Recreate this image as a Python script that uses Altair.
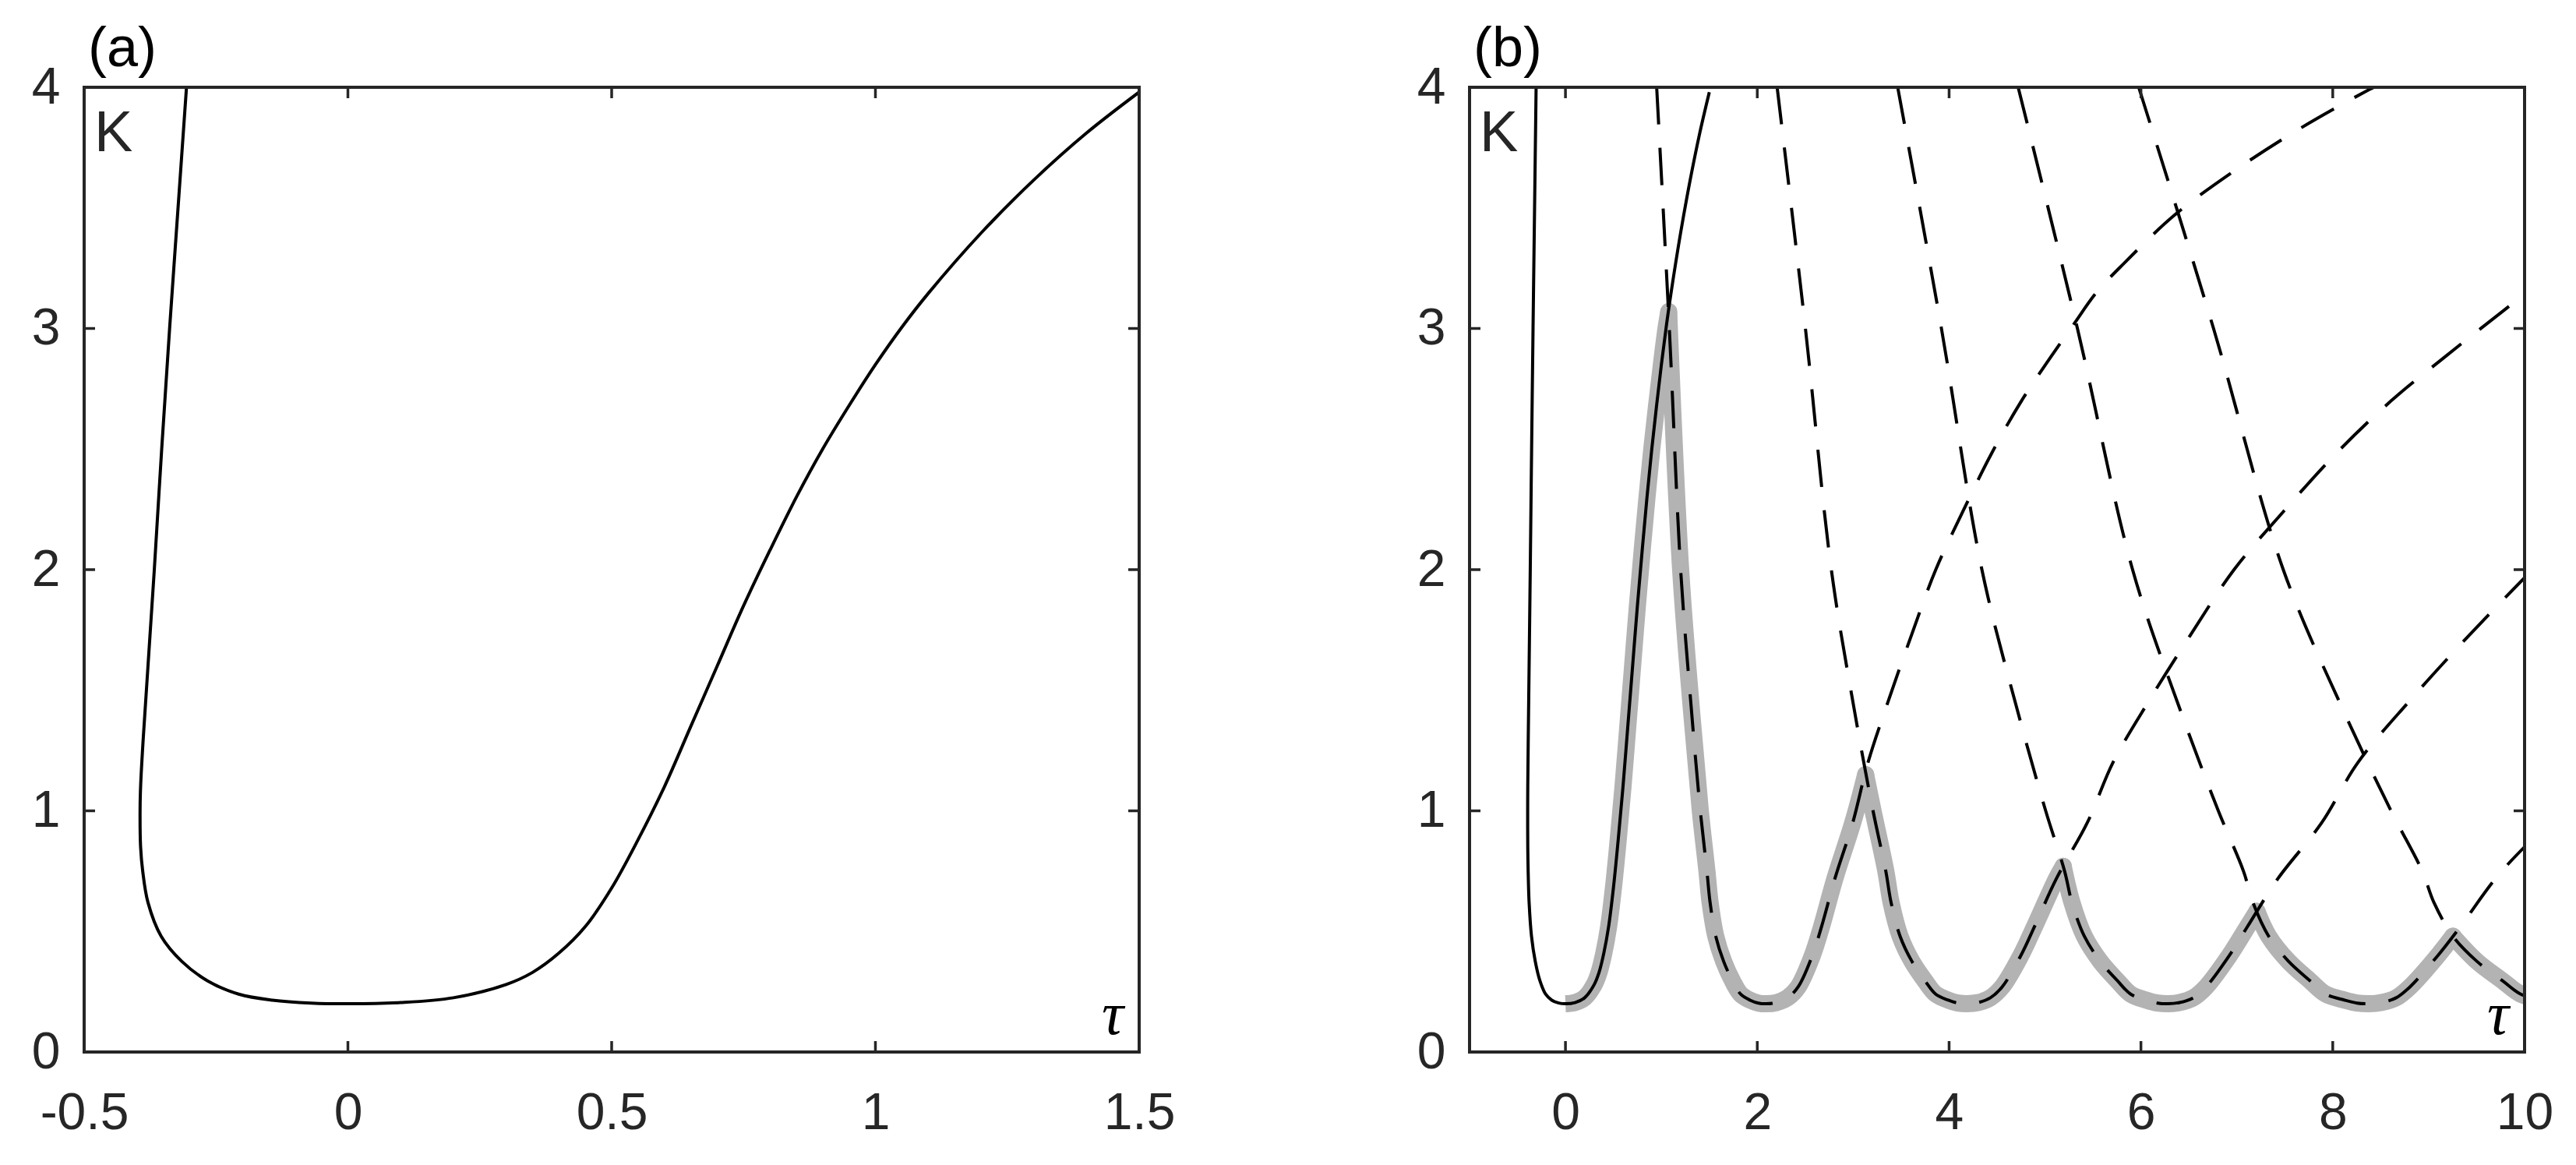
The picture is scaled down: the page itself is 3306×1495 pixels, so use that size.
import altair as alt
import pandas as pd

# ---------------- data: (tau, K) ----------------
# n = 0 branch (solid), from the top of its left arm to the top of its right arm
solid_tau = [-0.306, -0.322, -0.338, -0.353, -0.367, -0.379, -0.388, -0.393, -0.394, -0.393,
             -0.389, -0.379, -0.354, -0.315, -0.266, -0.207, -0.143, -0.070, 0.000, 0.100,
             0.200, 0.300, 0.350, 0.400, 0.450, 0.500, 0.550, 0.600, 0.650, 0.700,
             0.750, 0.800, 0.850, 0.900, 0.950, 1.000, 1.050, 1.100, 1.200, 1.300,
             1.400, 1.500]
solid_K = [4.00, 3.50, 3.00, 2.50, 2.00, 1.60, 1.30, 1.10, 1.00, 0.85,
           0.75, 0.62, 0.48, 0.376, 0.295, 0.24, 0.215, 0.203, 0.200, 0.205,
           0.225, 0.28, 0.33, 0.41, 0.52, 0.68, 0.88, 1.10, 1.35, 1.60,
           1.85, 2.08, 2.30, 2.50, 2.68, 2.85, 3.005, 3.145, 3.395, 3.615,
           3.81, 3.98]

# dashed branches n = 1..5
dash1_tau = [0.951, 1.083, 1.201, 1.313, 1.406, 1.475, 1.508, 1.567, 1.649, 1.741, 1.826, 1.924,
             2.010, 2.094, 2.201, 2.316, 2.426, 2.574, 2.670, 2.810, 2.995, 3.154, 3.370, 3.609,
             3.861, 4.142, 4.440, 4.755, 5.057, 5.304, 5.538, 5.824, 6.350, 6.961, 7.621, 8.330, 8.430]
dash1_K = [4.0, 3.0, 2.0, 1.42, 1.0, 0.75, 0.62, 0.48, 0.376, 0.295, 0.24, 0.215,
           0.203, 0.2, 0.205, 0.225, 0.27, 0.40, 0.52, 0.72, 0.95, 1.2, 1.46, 1.73,
           2.0, 2.24, 2.48, 2.7, 2.88, 3.02, 3.15, 3.27, 3.47, 3.65, 3.82, 3.98, 4.0]

dash2_tau = [2.207, 2.502, 2.772, 3.011, 3.207, 3.340, 3.395, 3.489, 3.612, 3.749, 3.860, 3.991,
             4.091, 4.189, 4.303, 4.431, 4.553, 4.748, 4.890, 5.120, 5.440, 5.708, 6.090, 6.518,
             6.971, 7.484, 8.031, 8.609, 9.163, 9.607, 10.026]
dash2_K = [4.0, 3.0, 2.0, 1.42, 1.0, 0.75, 0.62, 0.48, 0.376, 0.295, 0.24, 0.215,
           0.203, 0.2, 0.205, 0.225, 0.27, 0.40, 0.52, 0.72, 0.95, 1.2, 1.46, 1.73,
           2.0, 2.24, 2.48, 2.7, 2.88, 3.02, 3.15]

dash3_tau = [3.464, 3.920, 4.342, 4.710, 5.007, 5.204, 5.281, 5.410, 5.576, 5.756, 5.893, 6.057,
             6.172, 6.283, 6.404, 6.547, 6.679, 6.922, 7.111, 7.430, 7.884, 8.262, 8.810, 9.427,
             10.082]
dash3_K = [4.0, 3.0, 2.0, 1.42, 1.0, 0.75, 0.62, 0.48, 0.376, 0.295, 0.24, 0.215,
           0.203, 0.2, 0.205, 0.225, 0.27, 0.40, 0.52, 0.72, 0.95, 1.2, 1.46, 1.73,
           2.0]

dash4_tau = [4.720, 5.338, 5.913, 6.408, 6.807, 7.069, 7.168, 7.332, 7.539, 7.764, 7.927, 8.124,
             8.252, 8.378, 8.506, 8.662, 8.805, 9.096, 9.331, 9.740, 10.329]
dash4_K = [4.0, 3.0, 2.0, 1.42, 1.0, 0.75, 0.62, 0.48, 0.376, 0.295, 0.24, 0.215,
           0.203, 0.2, 0.205, 0.225, 0.27, 0.40, 0.52, 0.74, 0.98]

dash5_tau = [5.977, 6.757, 7.484, 8.106, 8.608, 8.933, 9.055, 9.253, 9.503, 9.771, 9.960, 10.191]
dash5_K = [4.0, 3.0, 2.0, 1.42, 1.0, 0.75, 0.62, 0.48, 0.376, 0.295, 0.24, 0.215]

# thick grey lower envelope, one piece between consecutive peaks
gray0_tau = [0.0, 0.1, 0.2, 0.3, 0.35, 0.4, 0.45, 0.5, 0.55, 0.6, 0.65, 0.7, 0.75, 0.8, 0.85, 0.9,
             0.95, 1.0, 1.05, 1.077]
gray0_K = [0.2, 0.205, 0.225, 0.28, 0.33, 0.41, 0.52, 0.68, 0.88, 1.10, 1.35, 1.60, 1.85, 2.08,
           2.30, 2.50, 2.68, 2.85, 3.005, 3.07]
gray1_tau = [1.077, 1.083, 1.201, 1.313, 1.406, 1.475, 1.508, 1.567, 1.649, 1.741, 1.826, 1.924, 2.010,
             2.094, 2.201, 2.316, 2.426, 2.574, 2.670, 2.810, 2.995, 3.13]
gray1_K = [3.07, 3.0, 2.0, 1.42, 1.0, 0.75, 0.62, 0.48, 0.376, 0.295, 0.24, 0.215, 0.203,
           0.2, 0.205, 0.225, 0.27, 0.40, 0.52, 0.72, 0.95, 1.15]
gray2_tau = [3.13, 3.207, 3.340, 3.395, 3.489, 3.612, 3.749, 3.860, 3.991, 4.091, 4.189, 4.303, 4.431,
             4.553, 4.748, 4.890, 5.120, 5.19]
gray2_K = [1.15, 1.0, 0.75, 0.62, 0.48, 0.376, 0.295, 0.24, 0.215, 0.203, 0.2, 0.205, 0.225,
           0.27, 0.40, 0.52, 0.72, 0.77]
gray3_tau = [5.19, 5.281, 5.410, 5.576, 5.756, 5.893, 6.057, 6.172, 6.283, 6.404, 6.547, 6.679, 6.922,
             7.111, 7.21]
gray3_K = [0.77, 0.62, 0.48, 0.376, 0.295, 0.24, 0.215, 0.203, 0.2, 0.205, 0.225, 0.27, 0.40,
           0.52, 0.583]
gray4_tau = [7.21, 7.332, 7.539, 7.764, 7.927, 8.124, 8.252, 8.378, 8.506, 8.662, 8.805, 9.096, 9.253]
gray4_K = [0.583, 0.48, 0.376, 0.295, 0.24, 0.215, 0.203, 0.2, 0.205, 0.225, 0.27, 0.40, 0.48]
gray5_tau = [9.253, 9.503, 9.771, 9.960, 10.191]
gray5_K = [0.48, 0.376, 0.295, 0.24, 0.215]

xa_ticks = [-0.5, 0, 0.5, 1, 1.5]
xb_ticks = [0, 2, 4, 6, 8, 10]
y_ticks = [0, 1, 2, 3, 4]

# ---------------- styling ----------------
W, H = 1354, 1238
FONT = "Liberation Sans"
AX = "#262626"
GREY = "#b3b3b3"
TL = 14


def long_df(pairs):
    rows = []
    for name, taus, ks in pairs:
        for i, (t, k) in enumerate(zip(taus, ks)):
            rows.append({"tau": t, "K": k, "i": i, "c": name})
    return pd.DataFrame(rows)


def panel(xdom, xticks, label, with_b):
    xs = alt.Scale(domain=xdom, nice=False, zero=False)
    ys = alt.Scale(domain=[0, 4], nice=False, zero=False)
    xaxis = alt.Axis(values=xticks, labelExpr="toString(datum.value)", ticks=False, domain=False,
                     grid=False, labelFont=FONT, labelFontSize=66, labelColor=AX,
                     labelPadding=46, labelFlush=False)
    yaxis = alt.Axis(values=y_ticks, labelExpr="toString(datum.value)", ticks=False, domain=False,
                     grid=False, labelFont=FONT, labelFontSize=66, labelColor=AX,
                     labelPadding=31, labelFlush=False)

    def X(f):
        return alt.X(f"{f}:Q", scale=xs, axis=xaxis, title=None)

    def Y(f):
        return alt.Y(f"{f}:Q", scale=ys, axis=yaxis, title=None)

    layers = []
    if with_b:
        g0 = long_df([("g0", gray0_tau, gray0_K)])
        layers.append(alt.Chart(g0).mark_line(color=GREY, strokeWidth=22, clip=True,
                                              interpolate="catmull-rom", strokeCap="butt",
                                              strokeJoin="round")
                      .encode(x=X("tau"), y=Y("K"), order="i:Q"))
        gdf = long_df([("g1", gray1_tau, gray1_K),
                       ("g2", gray2_tau, gray2_K), ("g3", gray3_tau, gray3_K),
                       ("g4", gray4_tau, gray4_K), ("g5", gray5_tau, gray5_K)])
        layers.append(alt.Chart(gdf).mark_line(color=GREY, strokeWidth=22, clip=True,
                                               interpolate="catmull-rom", strokeCap="round",
                                               strokeJoin="round")
                      .encode(x=X("tau"), y=Y("K"), detail="c:N", order="i:Q"))
        ddf = long_df([("d1", dash1_tau, dash1_K), ("d2", dash2_tau, dash2_K),
                       ("d3", dash3_tau, dash3_K), ("d4", dash4_tau, dash4_K),
                       ("d5", dash5_tau, dash5_K)])
        layers.append(alt.Chart(ddf).mark_line(color="black", strokeWidth=4, clip=True,
                                               interpolate="catmull-rom", strokeDash=[48, 30])
                      .encode(x=X("tau"), y=Y("K"), detail="c:N", order="i:Q"))
    sdf = long_df([("s", solid_tau, solid_K)])
    layers.append(alt.Chart(sdf).mark_line(color="black", strokeWidth=4, clip=True,
                                           interpolate="catmull-rom")
                  .encode(x=X("tau"), y=Y("K"), order="i:Q"))

    xt = pd.DataFrame({"v": xticks})
    yt = pd.DataFrame({"v": y_ticks})
    rule = dict(color=AX, strokeWidth=3.5)
    layers.append(alt.Chart(xt).mark_rule(**rule).encode(x=X("v"), y=alt.value(H), y2=alt.value(H - TL)))
    layers.append(alt.Chart(xt).mark_rule(**rule).encode(x=X("v"), y=alt.value(0), y2=alt.value(TL)))
    layers.append(alt.Chart(yt).mark_rule(**rule).encode(y=Y("v"), x=alt.value(0), x2=alt.value(TL)))
    layers.append(alt.Chart(yt).mark_rule(**rule).encode(y=Y("v"), x=alt.value(W), x2=alt.value(W - TL)))

    one = pd.DataFrame({"a": [0]})
    fr = dict(color=AX, strokeWidth=4, strokeCap="square")
    layers.append(alt.Chart(one).mark_rule(**fr).encode(x=alt.value(0), x2=alt.value(W), y=alt.value(0)))
    layers.append(alt.Chart(one).mark_rule(**fr).encode(x=alt.value(0), x2=alt.value(W), y=alt.value(H)))
    layers.append(alt.Chart(one).mark_rule(**fr).encode(y=alt.value(0), y2=alt.value(H), x=alt.value(0)))
    layers.append(alt.Chart(one).mark_rule(**fr).encode(y=alt.value(0), y2=alt.value(H), x=alt.value(W)))

    layers.append(alt.Chart(one).mark_text(text="K", font=FONT, fontSize=74, align="left",
                                           baseline="alphabetic", color=AX)
                  .encode(x=alt.value(13), y=alt.value(82)))
    layers.append(alt.Chart(one).mark_text(text="τ", font="Liberation Serif", fontStyle="italic",
                                           fontSize=78, align="right", baseline="alphabetic",
                                           color="black")
                  .encode(x=alt.value(W - 20), y=alt.value(H - 23)))

    return alt.layer(*layers).properties(
        width=W, height=H,
        title=alt.TitleParams(text=label, anchor="start", frame="group", font=FONT, fontSize=72,
                              fontWeight="normal", color="black", offset=-21, dx=5))


pa = panel([-0.5, 1.5], xa_ticks, "(a)", False)
pb = panel([-1, 10], xb_ticks, "(b)", True)

chart = alt.hconcat(pa, pb, spacing=424, bounds="flush").properties(
    padding={"left": 32, "top": 19, "right": 5, "bottom": 5},
    background="white"
).configure_view(stroke=None)

chart.save("out.html", embed_options={"renderer": "svg", "actions": False})
